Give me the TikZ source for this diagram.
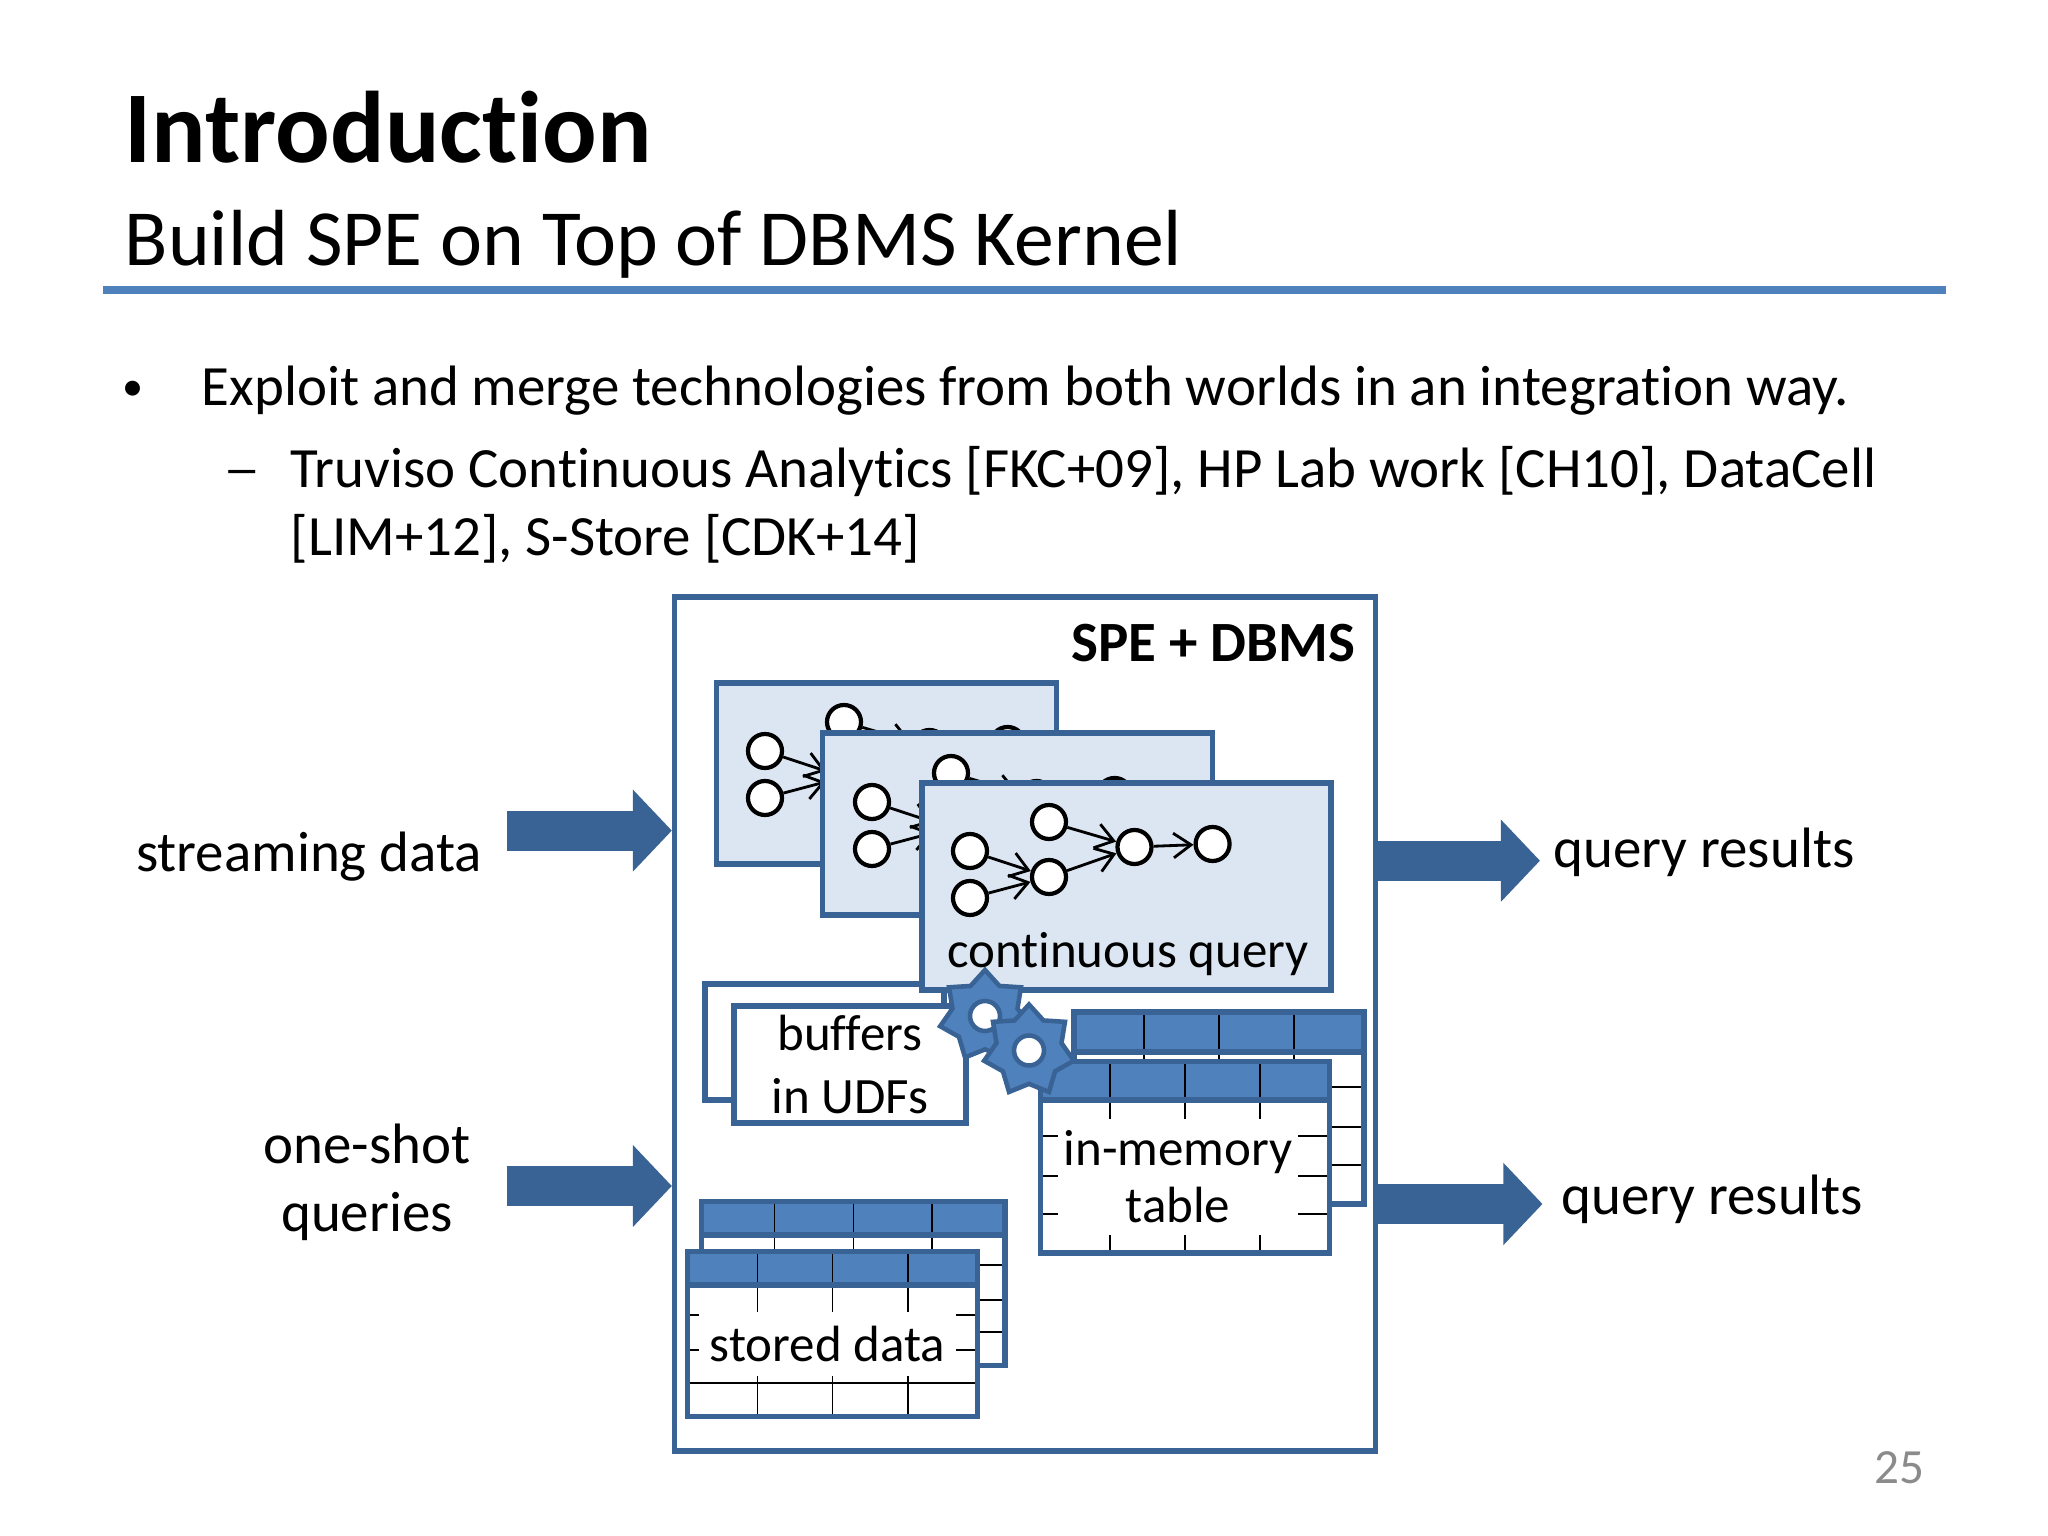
\documentclass[tikz,border=0pt]{standalone}
\usepackage{fontspec}
\setmainfont{Carlito}[Ligatures=NoCommon]
\usetikzlibrary{arrows.meta}
\usetikzlibrary{shapes.geometric}
\definecolor{spblue}{HTML}{4F81BD}
\definecolor{spdark}{HTML}{3A6395}
\definecolor{splight}{HTML}{DCE6F2}
\definecolor{spgrey}{HTML}{8B8B8B}
\newcommand{\bodyfont}{\fontsize{16.2}{19.3}\selectfont}
\newcommand{\labelfont}{\fontsize{16.2}{19.3}\selectfont}
\newcommand{\innerfont}{\fontsize{14.5}{17}\selectfont}
\tikzset{
txt/.style={
  anchor=base west,
  inner sep=0pt,
  font=\bodyfont
  }
}
\tikzset{
lbl/.style={
  anchor=base,
  inner sep=0pt,
  align=center,
  font=\labelfont
  }
}
\tikzset{
box/.style={
  draw=spdark,
  line width=1.5pt,
  inner sep=0pt
  }
}
\tikzset{
qbox/.style={
  box,
  fill=splight
  }
}
\tikzset{
op/.style={
  circle,
  draw=black,
  fill=white,
  line width=1.2pt,
  inner sep=0pt,
  minimum size=0.34cm
  }
}
\tikzset{
gear/.style={
  star,
  star points=7,
  star point ratio=1.38,
  draw=spdark,
  fill=spblue,
  line width=1.3pt,
  inner sep=0pt,
  minimum size=0.92cm
  }
}
\tikzset{
hole/.style={
  circle,
  draw=spdark,
  fill=white,
  line width=1.3pt,
  inner sep=0pt,
  minimum size=0.3cm
  }
}
\tikzset{
mask/.style={
  fill=white,
  inner sep=0pt,
  align=center,
  font=\innerfont
  }
}
\tikzstyle{edge} = [draw,line width=0.8pt,-{Straight Barb[length=5pt,width=7pt]}]
\tikzstyle{flow} = [draw=spdark,line width=11.4pt,-{Triangle[width=22.7pt,length=11.1pt,color=spdark]}]
\tikzstyle{grid} = [draw=black,line width=0.5pt]
% x1 y1 x2 y2 header-bottom columns rows
\newcommand{\datatable}[7]{
  \fill[white] (#1,#2) rectangle (#3,#4);
  \fill[spblue] (#1,#2) rectangle (#3,#5);
  \foreach \cx in {#6} \draw[grid] (\cx,#2) -- (\cx,#4);
  \foreach \ry in {#7} \draw[grid] (#1,\ry) -- (#3,\ry);
  \draw[draw=spdark,line width=1.5pt] (#1,#2) rectangle (#3,#4);
  \draw[draw=spdark,line width=1.5pt] (#1,#5) -- (#3,#5);
}
\begin{document}
\begin{tikzpicture}[x=1cm, y=-1cm]
	\path[use as bounding box] (0,0) rectangle (20.48,15.36);

	%header
	\node (title) at (1.24,1.63) [txt, font=\fontsize{28.95}{30}\selectfont\bfseries] {Introduction};
	\node (subtitle) at (1.24,2.66) [txt, font=\fontsize{22.65}{24}\selectfont] {Build SPE on Top of DBMS Kernel};
	\coordinate (ruleleft) at (1.03,2.9);
	\coordinate (ruleright) at (19.46,2.9);
	\draw[spblue, line width=2.2pt] (ruleleft) -- (ruleright);

	%bullets
	\node (bullet) at (1.215,4.005) [txt, font=\fontsize{12}{14}\selectfont] {•};
	\node (exploit) at (2.01,4.06) [txt] {Exploit and merge technologies from both worlds in an integration way.};
	\node (dash) at (2.245,4.83) [txt, font=\fontsize{10.5}{12}\selectfont\bfseries] {—};
	\node (truviso) at (2.90,4.875) [txt] {Truviso Continuous Analytics [FKC+09], HP Lab work [CH10], DataCell};
	\node (truvisob) at (2.90,5.56) [txt] {[LIM+12], S-Store [CDK+14]};

	%outer box
	\node (spe) at (10.25,10.24) [box, minimum width=7.01cm, minimum height=8.54cm] {};
	\node (spelabel) at (13.56,6.62) [lbl, anchor=base east, font=\labelfont\bfseries] {SPE + DBMS};

	%buffers (the back one goes under the query boxes)
	\node (bufback) at (8.245,10.42) [box, fill=white, minimum width=2.39cm, minimum height=1.16cm] {};

	%query boxes with their operators
	\foreach \q/\bx/\by/\bw/\bh/\dx/\dy in {a/8.866/7.734/3.40/1.81/-2.05/-1.00, b/10.178/8.24/3.90/1.82/-0.98/-0.49, c/11.265/8.864/4.09/2.07/0/0} {
		\node (\q box) at (\bx,\by) [qbox, minimum width=\bw cm, minimum height=\bh cm] {};
		\begin{scope}[shift={(\dx,\dy)}]
			\node (\q n1) at (9.70,8.51) [op] {};
			\node (\q n2) at (9.70,8.98) [op] {};
			\node (\q n3) at (10.49,8.22) [op] {};
			\node (\q n4) at (10.49,8.77) [op] {};
			\node (\q n5) at (11.345,8.47) [op] {};
			\node (\q n6) at (12.126,8.44) [op] {};
		\end{scope}
		\draw (\q n1) edge[edge] (\q n4);
		\draw (\q n2) edge[edge] (\q n4);
		\draw (\q n3) edge[edge] (\q n5);
		\draw (\q n4) edge[edge] (\q n5);
		\draw (\q n5) edge[edge] (\q n6);
	}
	\node (cqlabel) at (11.28,9.675) [lbl, font=\innerfont] {continuous query};

	\node (buffers) at (8.499,10.644) [box, fill=white, minimum width=2.32cm, minimum height=1.17cm, align=center, font=\fontsize{14.5}{17.9}\selectfont] {buffers\\in UDFs};

	%in-memory table
	\datatable{10.74}{10.12}{13.64}{12.04}{10.52}{11.437,12.19,12.94}{10.867,11.267,11.65}
	\datatable{10.404}{10.617}{13.297}{12.53}{11.00}{11.097,11.85,12.60}{11.357,11.76,12.14}
	\node (memory) at (11.78,11.77) [mask, minimum width=2.40cm, minimum height=1.16cm, font=\fontsize{14.5}{16.2}\selectfont] {in-memory\\table};

	%stored data table
	\datatable{7.016}{12.017}{10.05}{13.657}{12.35}{7.746,8.536,9.32}{12.65,13.00,13.32}
	\datatable{6.878}{12.517}{9.775}{14.167}{12.85}{7.576,8.324,9.077}{13.15,13.50,13.833}
	\node (stored) at (8.275,13.44) [mask, minimum width=2.57cm, minimum height=0.64cm] {stored data};

	%gears
	\node (gearone) at (9.85,10.16) [gear] {};
	\node (holeone) at (gearone) [hole] {};
	\node (geartwo) at (10.29,10.505) [gear] {};
	\node (holetwo) at (geartwo) [hole] {};

	%arrows and their labels
	\node (streaming) at (3.09,8.71) [lbl] {streaming data};
	\node (oneshot) at (3.67,11.63) [lbl] {one-shot};
	\node (queries) at (3.67,12.31) [lbl] {queries};
	\node (resulta) at (17.04,8.67) [lbl] {query results};
	\node (resultb) at (17.12,12.14) [lbl] {query results};
	\coordinate (streamin) at (5.07,8.306);
	\coordinate (shotin) at (5.07,11.86);
	\coordinate (resultaout) at (15.40,8.607);
	\coordinate (resultbout) at (15.425,12.04);
	\draw[flow] (streamin) -- (spe.west |- streamin);
	\draw[flow] (shotin) -- (spe.west |- shotin);
	\draw[flow] (spe.east |- resultaout) -- (resultaout);
	\draw[flow] (spe.east |- resultbout) -- (resultbout);

	%page number
	\node (pageno) at (19.25,14.83) [txt, anchor=base east, text=spgrey, font=\fontsize{14}{16}\selectfont] {25};
\end{tikzpicture}
\end{document}
